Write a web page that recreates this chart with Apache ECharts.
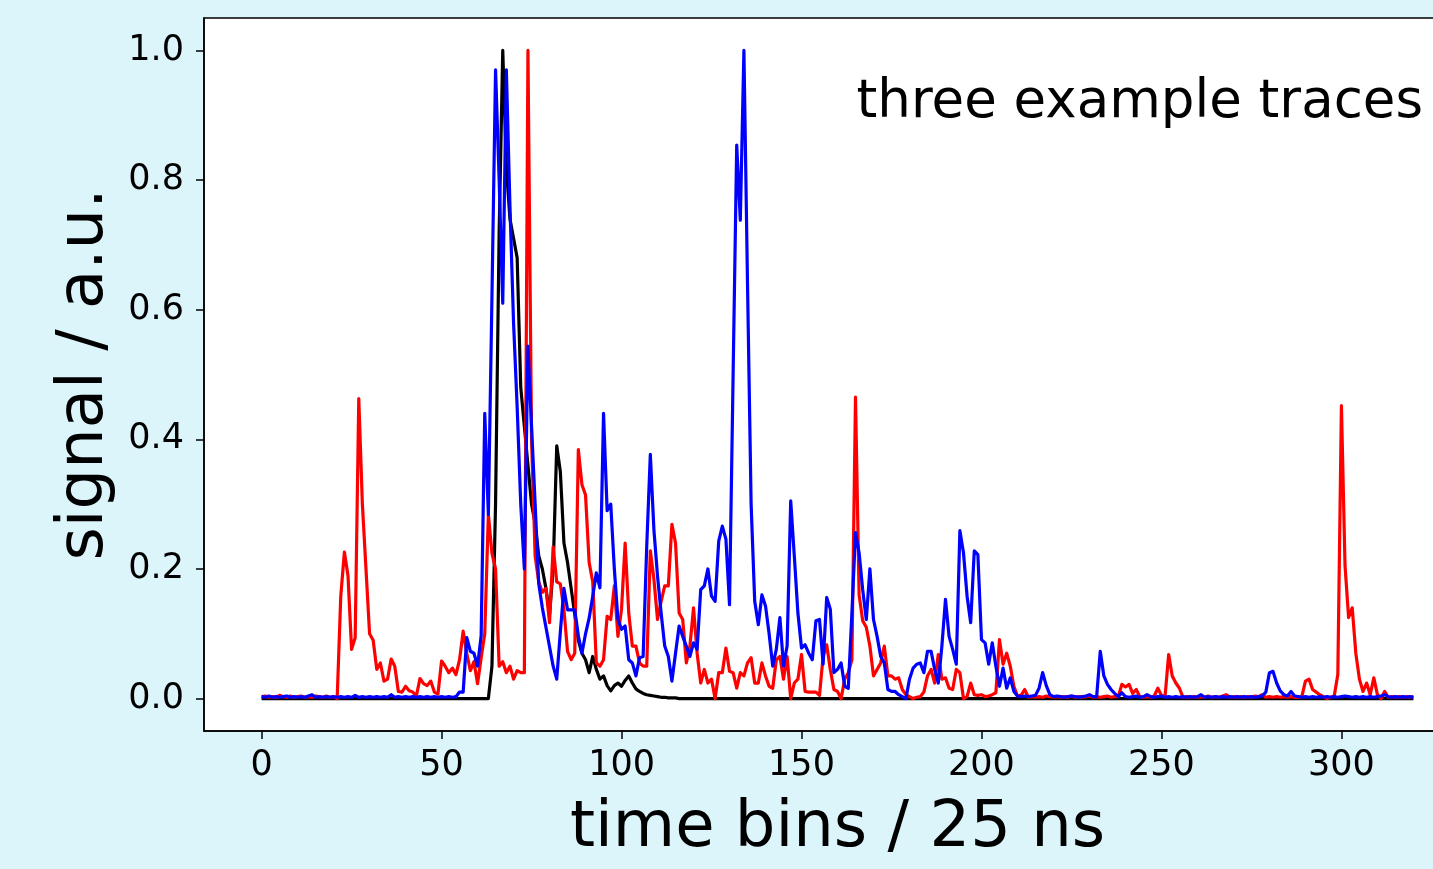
<!DOCTYPE html>
<html>
<head>
<meta charset="utf-8">
<title>three example traces</title>
<script src="https://cdn.jsdelivr.net/npm/echarts@6/dist/echarts.min.js"></script>
<style>
html,body{margin:0;padding:0;background:#dcf5fa;overflow:hidden;}
/* the axes run past the right edge of the window, like in the original figure */
#chartContainer{width:1480px;height:869px;}
</style>
</head>
<body>
<div id="chartContainer"></div>
<script>
// tick positions
var xTicks=[0,50,100,150,200,250,300];
var yTicks=[0,0.2,0.4,0.6,0.8,1.0];

// trace 1 (black), one value per time bin 0..320
var blackTrace=[
	0,0,0,0,0,0,0,0,0,0,0,0,0,0,0,0,0,0,0,0,
	0,0,0,0,0,0,0,0,0,0,0,0,0,0,0,0,0,0,0,0,
	0,0,0,0,0,0,0,0,0,0,0,0,0,0,0,0,0,0,0,0,
	0,0,0,0,0.05,0.3,0.72,1.0,0.82,0.74,0.71,0.68,0.48,0.42,0.36,0.3,0.27,0.22,0.2,0.17,
	0.13,0.2,0.39,0.35,0.24,0.21,0.17,0.13,0.09,0.07,0.06,0.04,0.065,0.045,0.03,0.035,0.02,0.012,0.02,0.024,
	0.019,0.028,0.035,0.024,0.015,0.011,0.008,0.006,0.005,0.004,0.003,0.002,0.002,0.001,0.001,0.001,0,0,0,0,
	0,0,0,0,0,0,0,0,0,0,0,0,0,0,0,0,0,0,0,0,
	0,0,0,0,0,0,0,0,0,0,0,0,0,0,0,0,0,0,0,0,
	0,0,0,0,0,0,0,0,0,0,0,0,0,0,0,0,0,0,0,0,
	0,0,0,0,0,0,0,0,0,0,0,0,0,0,0,0,0,0,0,0,
	0,0,0,0,0,0,0,0,0,0,0,0,0,0,0,0,0,0,0,0,
	0,0,0,0,0,0,0,0,0,0,0,0,0,0,0,0,0,0,0,0,
	0,0,0,0,0,0,0,0,0,0,0,0,0,0,0,0,0,0,0,0,
	0,0,0,0,0,0,0,0,0,0,0,0,0,0,0,0,0,0,0,0,
	0,0,0,0,0,0,0,0,0,0,0,0,0,0,0,0,0,0,0,0,
	0,0,0,0,0,0,0,0,0,0,0,0,0,0,0,0,0,0,0,0,
	0
];

// trace 2 (red)
var redTrace=[
	0.003,0.004,0.002,0.003,0.002,0.005,0.003,0.002,0.004,0.002,0.003,0.004,0.002,0.003,0.002,0.004,0.003,0.002,0.004,0.002,
	0.003,0.0,0.158,0.226,0.19,0.076,0.094,0.463,0.30,0.2,0.1,0.09,0.045,0.055,0.027,0.03,0.061,0.05,0.011,0.01,
	0.019,0.012,0.01,0.004,0.031,0.023,0.02,0.027,0.01,0.007,0.058,0.05,0.04,0.047,0.037,0.06,0.104,0.07,0.043,0.057,
	0.023,0.063,0.1,0.284,0.224,0.2,0.05,0.057,0.04,0.05,0.03,0.043,0.04,0.04,1.0,0.4,0.22,0.18,0.164,0.17,
	0.117,0.234,0.18,0.177,0.137,0.073,0.06,0.07,0.384,0.33,0.314,0.21,0.18,0.055,0.05,0.06,0.127,0.122,0.174,0.096,
	0.138,0.24,0.132,0.081,0.081,0.055,0.05,0.05,0.228,0.184,0.122,0.15,0.174,0.174,0.269,0.24,0.132,0.122,0.055,0.081,
	0.14,0.07,0.024,0.045,0.024,0.03,0.0,0.04,0.04,0.078,0.042,0.04,0.016,0.04,0.035,0.055,0.063,0.024,0.024,0.055,
	0.035,0.019,0.016,0.06,0.065,0.03,0.065,0.0,0.024,0.03,0.068,0.011,0.01,0.01,0.01,0.005,0.065,0.083,0.045,0.014,
	0.011,0.0,0.03,0.04,0.06,0.465,0.16,0.12,0.11,0.081,0.035,0.045,0.055,0.081,0.035,0.035,0.03,0.032,0.014,0.006,
	0.003,0.0,0.002,0.003,0.01,0.035,0.045,0.024,0.068,0.03,0.032,0.016,0.014,0.045,0.04,0.0,0.003,0.024,0.006,0.005,
	0.006,0.003,0.004,0.006,0.009,0.091,0.053,0.07,0.05,0.019,0.004,0.005,0.014,0.002,0.003,0.002,0.003,0.002,0.004,0.003,
	0.002,0.003,0.002,0.003,0.002,0.004,0.002,0.003,0.002,0.003,0.004,0.002,0.003,0.002,0.003,0.004,0.002,0.003,0.003,0.022,
	0.018,0.022,0.008,0.014,0.003,0.002,0.003,0.002,0.004,0.016,0.005,0.003,0.068,0.035,0.024,0.016,0.002,0.003,0.002,0.003,
	0.002,0.003,0.002,0.004,0.002,0.003,0.002,0.004,0.006,0.002,0.003,0.002,0.003,0.002,0.003,0.002,0.004,0.003,0.006,0.002,
	0.003,0.002,0.003,0.002,0.003,0.002,0.003,0.002,0.002,0.003,0.027,0.03,0.014,0.01,0.006,0.003,0.0,0.002,0.004,0.037,
	0.452,0.205,0.125,0.14,0.07,0.03,0.011,0.024,0.006,0.032,0.006,0.0,0.011,0.002,0.003,0.002,0.003,0.002,0.003,0.002,
	0.003
];

// trace 3 (blue)
var blueTrace=[
	0.003,0.002,0.004,0.002,0.003,0.002,0.003,0.004,0.002,0.003,0.002,0.003,0.002,0.004,0.006,0.002,0.003,0.002,0.003,0.002,
	0.003,0.002,0.003,0.002,0.003,0.002,0.005,0.002,0.003,0.002,0.003,0.002,0.003,0.002,0.003,0.002,0.006,0.002,0.003,0.002,
	0.003,0.002,0.003,0.002,0.003,0.002,0.003,0.002,0.003,0.002,0.003,0.002,0.003,0.002,0.003,0.01,0.01,0.094,0.073,0.07,
	0.05,0.097,0.44,0.284,0.62,0.97,0.8,0.61,0.97,0.76,0.58,0.45,0.3,0.2,0.544,0.42,0.3,0.177,0.14,0.11,
	0.08,0.05,0.03,0.103,0.17,0.137,0.137,0.137,0.097,0.07,0.1,0.124,0.158,0.194,0.171,0.44,0.29,0.30,0.2,0.122,
	0.107,0.112,0.06,0.055,0.035,0.063,0.065,0.235,0.377,0.26,0.189,0.132,0.081,0.065,0.027,0.07,0.112,0.096,0.081,0.065,
	0.086,0.076,0.168,0.174,0.2,0.158,0.15,0.243,0.266,0.246,0.145,0.5,0.854,0.738,1.0,0.64,0.3,0.15,0.114,0.16,
	0.143,0.1,0.05,0.076,0.125,0.05,0.081,0.305,0.22,0.132,0.078,0.083,0.07,0.06,0.12,0.122,0.053,0.156,0.138,0.04,
	0.045,0.055,0.019,0.016,0.132,0.256,0.225,0.168,0.122,0.2,0.122,0.096,0.065,0.055,0.014,0.011,0.011,0.006,0.003,0.0,
	0.03,0.047,0.053,0.055,0.04,0.073,0.073,0.045,0.024,0.081,0.153,0.096,0.076,0.053,0.259,0.225,0.158,0.117,0.228,0.222,
	0.091,0.086,0.053,0.086,0.05,0.019,0.047,0.016,0.032,0.011,0.004,0.003,0.004,0.003,0.004,0.005,0.016,0.04,0.02,0.006,
	0.003,0.004,0.003,0.002,0.003,0.004,0.003,0.002,0.003,0.004,0.006,0.003,0.003,0.073,0.035,0.022,0.014,0.008,0.003,0.009,
	0.003,0.002,0.003,0.004,0.002,0.003,0.006,0.003,0.002,0.003,0.004,0.002,0.003,0.002,0.003,0.002,0.003,0.002,0.003,0.002,
	0.003,0.006,0.002,0.003,0.002,0.003,0.002,0.003,0.002,0.003,0.002,0.003,0.002,0.003,0.002,0.003,0.002,0.003,0.004,0.01,
	0.04,0.042,0.024,0.012,0.006,0.004,0.011,0.004,0.003,0.002,0.003,0.002,0.003,0.002,0.003,0.002,0.003,0.002,0.003,0.002,
	0.003,0.004,0.003,0.002,0.003,0.002,0.003,0.002,0.003,0.002,0.003,0.004,0.006,0.003,0.002,0.003,0.002,0.003,0.002,0.003,
	0.002
];

var fontName='DejaVu Sans';

// bin index -> [x, y] pairs for a value axis
function toPairs(arr){
	var out=[];
	arr.forEach(function(v,i){ out.push([i,v]); });
	return out;
}

function traceSeries(name,arr,color){
	return {
		name:name,
		type:'line',
		data:toPairs(arr),
		showSymbol:false,
		symbol:'none',
		lineStyle:{color:color,width:3.2,join:'round'},
		emphasis:{disabled:true},
		animation:false
	};
}

function showTraces(){
	var dom=document.getElementById("chartContainer");
	var myChart=echarts.init(dom,null,{renderer:'canvas'});
	var option={
		backgroundColor:'#dcf5fa',
		animation:false,
		title:{
			text:'three example traces',
			right:52,
			top:72,
			textStyle:{fontFamily:fontName,fontSize:53,fontWeight:'normal',color:'#000',lineHeight:53}
		},
		grid:{
			left:204,top:18,width:1267,height:713,
			outerBoundsMode:'none',
			show:true,backgroundColor:'#ffffff',borderColor:'#000',borderWidth:1.5
		},
		xAxis:{
			type:'value',min:-16,max:336,
			name:'time bins / 25 ns',nameLocation:'middle',nameGap:66,
			nameTextStyle:{fontFamily:fontName,fontSize:64,color:'#000'},
			axisLine:{onZero:false,lineStyle:{color:'#000',width:1.5}},
			axisTick:{customValues:xTicks,length:8,lineStyle:{color:'#000',width:1.5}},
			axisLabel:{customValues:xTicks,margin:17,fontFamily:fontName,fontSize:35,color:'#000'},
			splitLine:{show:false}
		},
		yAxis:{
			type:'value',min:-0.05,max:1.05,
			name:'signal / a.u.',nameLocation:'middle',nameGap:86,nameRotate:90,
			nameTextStyle:{fontFamily:fontName,fontSize:64,color:'#000'},
			axisLine:{onZero:false,lineStyle:{color:'#000',width:1.5}},
			axisTick:{customValues:yTicks,length:8,lineStyle:{color:'#000',width:1.5}},
			axisLabel:{customValues:yTicks,margin:20,fontFamily:fontName,fontSize:35,color:'#000',
				formatter:function(v){ return v.toFixed(1); }},
			splitLine:{show:false}
		},
		series:[
			traceSeries('black',blackTrace,'#000000'),
			traceSeries('red',redTrace,'#ff0000'),
			traceSeries('blue',blueTrace,'#0000ff')
		]
	};
	myChart.setOption(option,true);
}

showTraces();
</script>
</body>
</html>
